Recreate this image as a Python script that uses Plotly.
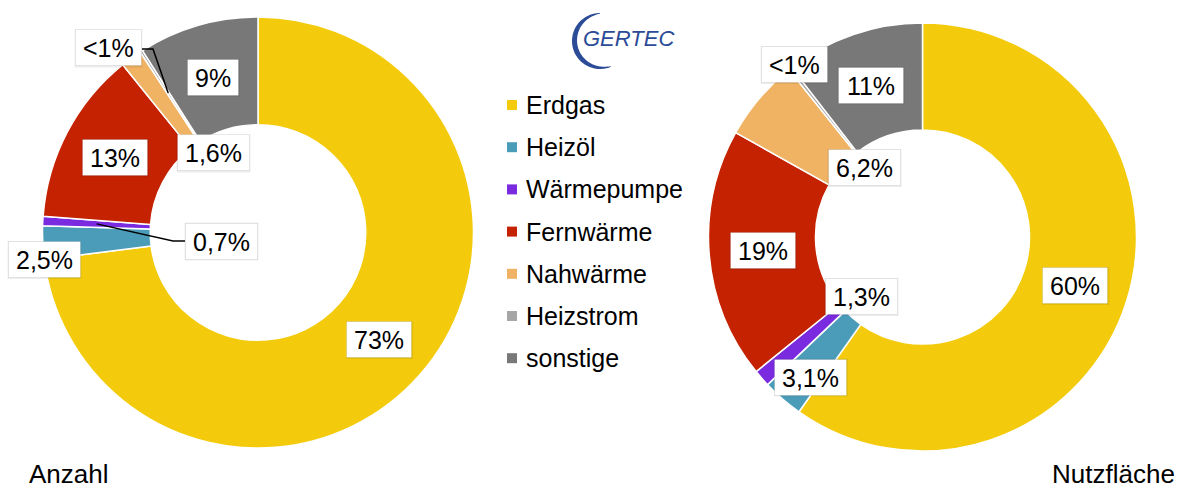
import numpy as np
import plotly.graph_objects as go

W, H = 1179, 489

# ---------------- data ----------------
categories = ["Erdgas", "Heizöl", "Wärmepumpe", "Fernwärme", "Nahwärme", "Heizstrom", "sonstige"]
colors = ["#F3CB0C", "#4B9CB9", "#7A2BDF", "#C42200", "#F0B263", "#A6A6A6", "#787878"]

anzahl_values = [73, 2.5, 0.7, 13, 1.6, 0.2, 9]
anzahl_labels = ["73%", "2,5%", "0,7%", "13%", "1,6%", "<1%", "9%"]

nutz_values = [60, 3.1, 1.3, 19, 6.2, 0.25, 10.5]
nutz_labels = ["60%", "3,1%", "1,3%", "19%", "6,2%", "<1%", "11%"]

chart_titles = ["Anzahl", "Nutzfläche"]
logo_text = "GERTEC"

# ---------------- layout helpers ----------------
FONT = "Liberation Sans, Arial, Helvetica, sans-serif"
HOLE = 0.5


def px(x):
    return x / W


def py(y):
    return 1 - y / H


charts = [
    dict(values=anzahl_values, labels=anzahl_labels, cx=258, cy=232.5, R=215.5,
         moved={1: (44, 259.5), 2: (221, 241), 4: (213, 153), 5: (108, 48)},
         leaders={5: [(142, 49), (153, 49)], 2: [(185, 241), (173, 241)]},
         leader_r={5: 0.77, 2: 0.75}),
    dict(values=nutz_values, labels=nutz_labels, cx=922.5, cy=237, R=214,
         moved={1: (810.5, 377), 2: (861, 296.5), 4: (864, 167.5), 5: (794, 64.5)},
         leaders={}, leader_r={}),
]

fig = go.Figure()
annotations = []
shapes = []

char_w = {"%": 0.889, ",": 0.278, "<": 0.584}
LABEL_FS = 25


def text_width(s, fs):
    return sum(char_w.get(c, 0.556) for c in s) * fs


for ch in charts:
    cx, cy, R = ch["cx"], ch["cy"], ch["R"]
    fig.add_trace(go.Pie(
        labels=categories, values=ch["values"], hole=HOLE, sort=False,
        direction="clockwise", rotation=0, textinfo="none",
        marker=dict(colors=colors, line=dict(color="white", width=1.5)),
        domain=dict(x=[px(cx - R), px(cx + R)], y=[py(cy + R), py(cy - R)]),
        showlegend=False, hovertemplate="%{label}: %{percent}<extra></extra>",
    ))
    vals = np.array(ch["values"], dtype=float)
    total = vals.sum()
    cum = np.cumsum(vals) - vals / 2
    mids = cum / total * 360.0
    rr = R * (1 + HOLE) / 2
    for i, lab in enumerate(ch["labels"]):
        a = np.deg2rad(mids[i])
        if i in ch["moved"]:
            x, y = ch["moved"][i]
        else:
            x, y = cx + rr * np.sin(a), cy - rr * np.cos(a)
        tw = text_width(lab, LABEL_FS)
        bw, bh = tw + 14, 35
        # soft shadow
        shapes.append(dict(type="rect", xref="paper", yref="paper",
                           x0=px(x - bw / 2 - 1), x1=px(x + bw / 2 + 2),
                           y0=py(y + bh / 2 + 2), y1=py(y - bh / 2 - 1),
                           fillcolor="rgba(0,0,0,0.07)", line=dict(width=0), layer="above"))
        annotations.append(dict(x=px(x), y=py(y), xref="paper", yref="paper",
                                xanchor="center", yanchor="middle",
                                text=lab, showarrow=False, width=bw, height=bh,
                                bgcolor="white", borderpad=0, bordercolor="rgba(0,0,0,0.08)",
                                borderwidth=1, font=dict(family=FONT, size=LABEL_FS, color="#000000")))
        if i in ch["leaders"]:
            pts = list(ch["leaders"][i])
            lr = R * ch["leader_r"][i]
            pts.append((cx + lr * np.sin(a), cy - lr * np.cos(a)))
            path = "M " + " L ".join(f"{px(p[0]):.5f},{py(p[1]):.5f}" for p in pts)
            shapes.append(dict(type="path", xref="paper", yref="paper", path=path,
                               line=dict(color="black", width=1.5), layer="above"))

# ---------------- legend (manual) ----------------
leg_y0, leg_dy = 105, 42.2
for i, (cat, col) in enumerate(zip(categories, colors)):
    yy = leg_y0 + i * leg_dy
    shapes.append(dict(type="rect", xref="paper", yref="paper",
                       x0=px(507), x1=px(517), y0=py(yy + 5), y1=py(yy - 5),
                       fillcolor=col, line=dict(width=0)))
    annotations.append(dict(x=px(524), y=py(yy), xref="paper", yref="paper",
                            xanchor="left", yanchor="middle", text=cat, showarrow=False,
                            font=dict(family=FONT, size=25, color="#000000")))

# ---------------- titles ----------------
annotations.append(dict(x=px(27), y=py(474), xref="paper", yref="paper", xanchor="left",
                        yanchor="middle", text=chart_titles[0], showarrow=False,
                        font=dict(family=FONT, size=26, color="#000000")))
annotations.append(dict(x=px(1177), y=py(474), xref="paper", yref="paper", xanchor="right",
                        yanchor="middle", text=chart_titles[1], showarrow=False,
                        font=dict(family=FONT, size=26, color="#000000")))

# ---------------- logo ----------------
lcx, lcy, lr = 600, 41, 28
phi = np.linspace(0, 203, 60)
t = 4.5 * np.sin(np.pi * phi / 203) ** 0.8 + 0.6
ph = np.deg2rad(phi)
outer = [(lcx - lr * np.sin(p), lcy - lr * np.cos(p)) for p in ph]
inner = [(lcx - (lr - tt) * np.sin(p), lcy - (lr - tt) * np.cos(p)) for p, tt in zip(ph, t)][::-1]
poly = outer + inner
path = "M " + " L ".join(f"{px(a):.5f},{py(b):.5f}" for a, b in poly) + " Z"
shapes.append(dict(type="path", xref="paper", yref="paper", path=path,
                   fillcolor="#2C4C97", line=dict(width=0)))
annotations.append(dict(x=px(628), y=py(38), xref="paper", yref="paper", xanchor="center",
                        yanchor="middle", text=f"<i>{logo_text}</i>", showarrow=False,
                        font=dict(family=FONT, size=22, color="#2C4C97")))

fig.update_layout(
    width=W, height=H, margin=dict(l=0, r=0, t=0, b=0),
    paper_bgcolor="white", plot_bgcolor="white",
    annotations=annotations, shapes=shapes, showlegend=False,
)

fig.write_html("out.html", config={"displayModeBar": False},
               post_script="document.body.style.margin='0';document.body.style.overflow='hidden';")
